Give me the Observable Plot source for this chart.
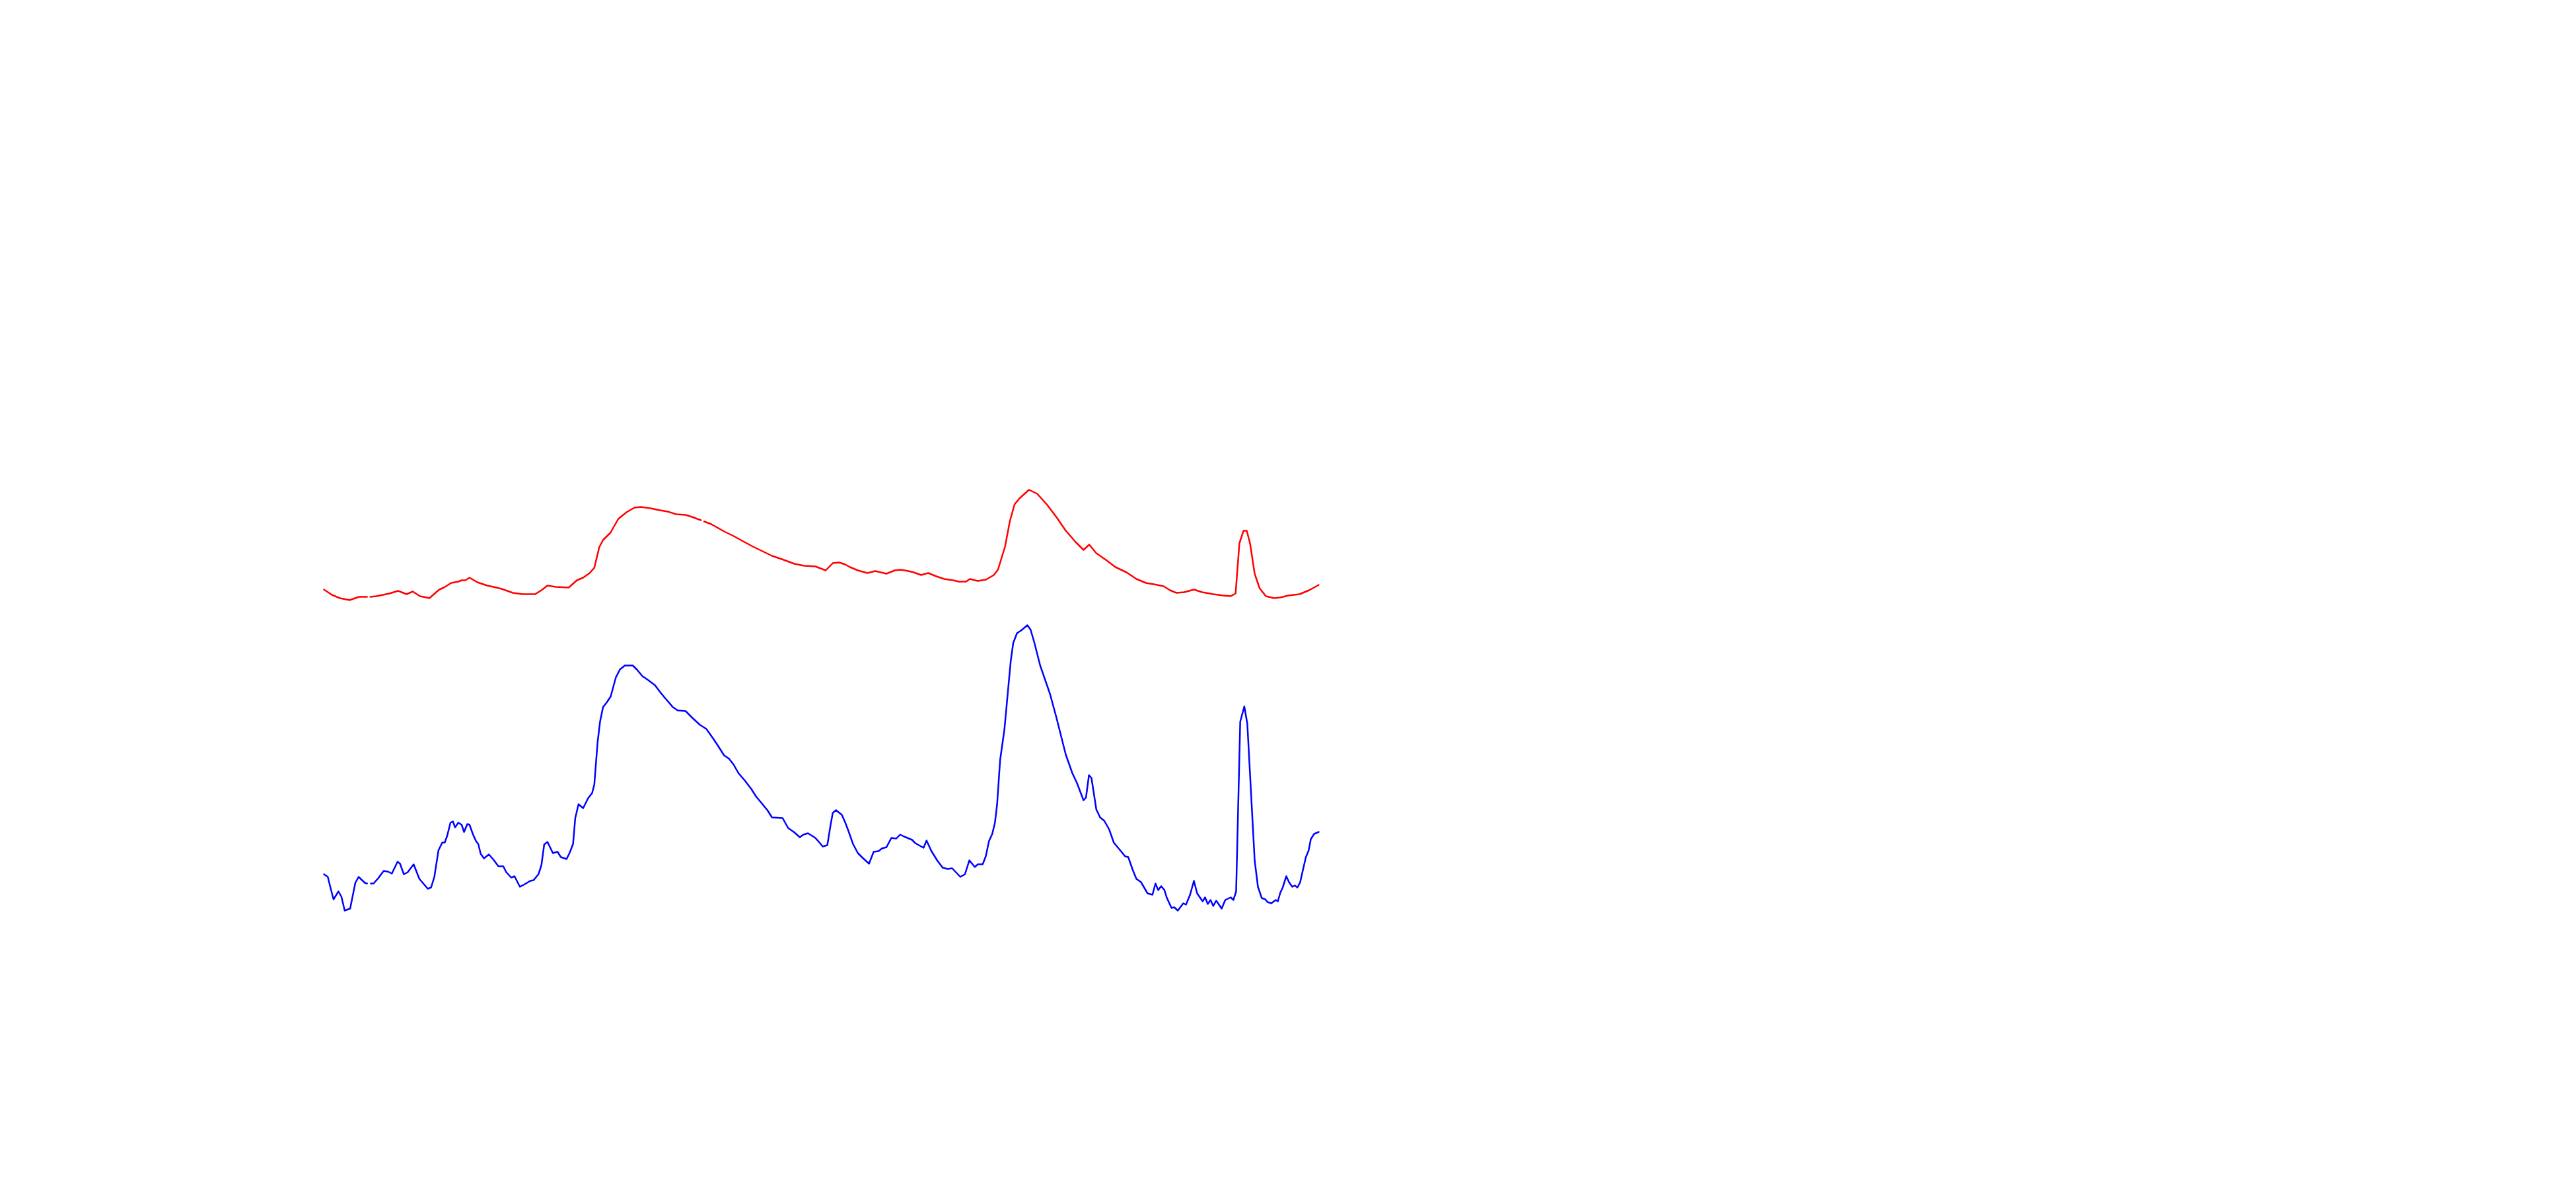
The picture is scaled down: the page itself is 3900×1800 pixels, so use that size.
<!DOCTYPE html>
<html>
<head>
<meta charset="utf-8">
<script src="https://cdn.jsdelivr.net/npm/d3@7"></script>
<script src="https://cdn.jsdelivr.net/npm/@observablehq/plot@0.6"></script>
<style>
  html, body { margin: 0; padding: 0; background: #ffffff; }
  #chart svg { display: block; }
</style>
</head>
<body>
<div id="chart"></div>
<script>
// Red series (day, value); null marks a missing reading
const redDays = [0, 2.9, 5.8, 9.4, 12.9, 15.8, 16.4, 17.0, 19.3, 24.0, 27.2, 30.3, 32.6, 35.2, 38.7, 42.3, 44.0, 46.7, 49.3, 50.5, 51.9, 53.4, 56.3, 59.9, 62.2, 65.2, 69.3, 72.8, 77.5, 79.8, 82.0, 85.1, 89.8, 92.8, 95.1, 97.5, 99.2, 101.0, 102.4, 105.1, 108.0, 111.0, 113.9, 116.3, 119.8, 123.3, 126.2, 129.2, 132.7, 135.0, 138.3, 138.8, 139.5, 142.1, 146.8, 150.3, 153.8, 157.4, 160.9, 164.4, 168.0, 172.6, 176.2, 180.3, 184.1, 186.7, 189.1, 191.2, 193.0, 195.9, 199.4, 202.3, 206.4, 209.4, 211.7, 214.4, 216.4, 219.1, 221.7, 224.7, 227.6, 230.9, 232.9, 235.6, 237.0, 239.9, 242.9, 245.8, 247.3, 249.9, 251.7, 253.4, 255.2, 258.7, 261.7, 265.2, 268.7, 272.2, 275.8, 278.7, 280.8, 283.4, 286.9, 290.4, 294.5, 298.1, 301.6, 304.5, 308.1, 310.4, 312.8, 315.7, 319.2, 322.2, 326.3, 329.8, 332.7, 334.5, 335.9, 337.4, 338.6, 339.8, 341.5, 343.3, 345.6, 348.6, 350.9, 353.9, 358.0, 361.5, 365];
const redValues = [508, 500, 495, 492, 497, 497, null, 497, 498, 502, 506, 501, 505, 498, 495, 508, 511, 518, 520, 522, 522, 526, 519, 514, 512, 509, 503, 501, 501, 507, 514, 512, 511, 522, 526, 533, 541, 572, 583, 594, 615, 625, 632, 633, 631, 628, 626, 622, 621, 618, 613, null, 611, 607, 596, 589, 581, 573, 566, 559, 554, 547, 544, 543, 537, 548, 549, 546, 542, 537, 533, 536, 532, 537, 538, 536, 534, 530, 533, 528, 524, 522, 520, 520, 524, 521, 523, 530, 538, 573, 612, 637, 646, 659, 653, 637, 618, 597, 580, 568, 576, 563, 553, 542, 534, 524, 518, 516, 513, 507, 503, 504, 508, 504, 501, 499, 498, 502, 578, 597, 597, 578, 532, 510, 498, 495, 496, 499, 501, 507, 515];

// Blue series (day, value); null marks a missing reading
const blueDays = [0, 1.4, 2.3, 3.5, 5.3, 6.4, 7.6, 9.6, 11.5, 12.7, 15.0, 15.8, 16.4, 17.2, 18.2, 19.9, 21.9, 23.5, 24.9, 27.0, 27.9, 29.3, 30.7, 32.9, 35.0, 38.1, 39.3, 40.5, 42.0, 43.4, 44.3, 45.2, 46.4, 47.3, 48.1, 49.3, 50.5, 51.4, 52.6, 53.4, 54.7, 55.8, 56.6, 57.5, 58.7, 60.5, 62.2, 64.0, 65.8, 66.9, 68.7, 69.9, 71.9, 73.7, 75.7, 76.9, 78.7, 79.8, 80.8, 82.0, 84.0, 85.7, 86.9, 89.0, 90.2, 91.4, 92.2, 93.4, 95.1, 96.9, 98.4, 99.2, 100.4, 101.3, 102.4, 103.9, 105.2, 107.1, 108.6, 110.4, 113.3, 114.8, 116.8, 118.6, 121.5, 123.3, 125.1, 128.0, 129.8, 132.7, 135.1, 138.0, 140.3, 142.7, 144.5, 146.8, 148.6, 150.3, 152.1, 154.4, 156.8, 158.5, 160.9, 162.7, 164.4, 168.3, 170.3, 172.4, 174.6, 175.9, 177.6, 180.3, 181.8, 183.0, 184.7, 185.9, 186.7, 187.9, 190.0, 191.2, 192.4, 194.1, 195.9, 197.6, 200.0, 201.7, 203.5, 204.7, 206.4, 208.2, 210.0, 211.4, 212.9, 215.8, 217.0, 220.0, 221.1, 222.9, 225.0, 227.0, 228.8, 230.5, 233.5, 235.2, 236.8, 238.8, 239.9, 241.7, 242.9, 244.0, 245.2, 246.2, 247.0, 248.1, 249.7, 251.1, 252.0, 252.9, 254.3, 255.8, 258.1, 259.3, 260.7, 262.8, 266.4, 268.7, 272.2, 274.6, 276.3, 278.7, 279.6, 280.7, 281.6, 283.4, 284.8, 286.3, 288.1, 289.8, 292.2, 294.0, 295.1, 296.9, 298.1, 299.8, 302.2, 304.0, 305.1, 306.1, 307.2, 308.4, 309.2, 311.0, 312.0, 313.3, 315.3, 316.3, 317.8, 319.2, 320.4, 322.4, 323.3, 324.3, 325.3, 326.3, 327.4, 329.4, 330.7, 332.7, 333.7, 334.7, 336.2, 337.7, 338.8, 341.5, 342.7, 344.1, 345.4, 346.2, 347.6, 349.2, 350.0, 350.9, 351.8, 353.1, 354.1, 355.3, 356.2, 357.2, 358.2, 359.4, 360.3, 361.3, 362.1, 363.3, 365];
const blueValues = [77, 73, 58, 39, 51, 43, 22, 25, 64, 73, 64, 63, null, 63, 63, 71, 82, 81, 78, 96, 93, 77, 80, 92, 70, 55, 57, 73, 113, 125, 125, 135, 155, 157, 148, 155, 152, 141, 153, 152, 137, 127, 123, 108, 101, 107, 99, 89, 89, 80, 72, 74, 58, 62, 67, 68, 77, 91, 122, 126, 109, 111, 103, 100, 110, 123, 162, 183, 177, 192, 200, 213, 277, 308, 330, 338, 346, 375, 387, 393, 393, 387, 377, 372, 363, 353, 344, 330, 325, 324, 314, 303, 297, 283, 272, 257, 252, 243, 230, 219, 206, 195, 183, 174, 163, 162, 147, 141, 133, 137, 139, 132, 125, 119, 121, 152, 170, 174, 167, 156, 143, 123, 109, 102, 93, 111, 112, 116, 118, 132, 131, 137, 134, 129, 124, 117, 128, 112, 98, 87, 85, 86, 73, 77, 98, 88, 92, 92, 105, 127, 138, 155, 183, 250, 297, 360, 400, 427, 442, 446, 454, 447, 427, 393, 350, 315, 258, 230, 215, 189, 193, 227, 223, 175, 163, 158, 145, 125, 113, 104, 103, 82, 70, 65, 48, 46, 63, 53, 59, 53, 42, 26, 27, 22, 33, 31, 46, 67, 48, 36, 42, 32, 38, 29, 37, 25, 38, 42, 38, 51, 308, 331, 305, 98, 58, 41, 39, 35, 33, 38, 36, 49, 57, 74, 65, 58, 60, 57, 65, 87, 103, 113, 130, 138, 141];

const redData = redDays.map((day, i) => ({day, value: redValues[i]}));
const blueData = blueDays.map((day, i) => ({day, value: blueValues[i]}));

const chart = Plot.plot({
  width: 3900,
  height: 1800,
  marginTop: 0,
  marginRight: 0,
  marginBottom: 0,
  marginLeft: 0,
  x: {domain: [0, 365], range: [490, 1996], axis: null},
  y: {domain: [0, 700], range: [1400, 700], axis: null},
  marks: [
    Plot.line(redData, {x: "day", y: "value", stroke: "#ff0000", strokeWidth: 2.5}),
    Plot.line(blueData, {x: "day", y: "value", stroke: "#0000ff", strokeWidth: 2.5})
  ]
});
chart.style.background = "#ffffff";
document.getElementById("chart").appendChild(chart);
</script>
</body>
</html>
